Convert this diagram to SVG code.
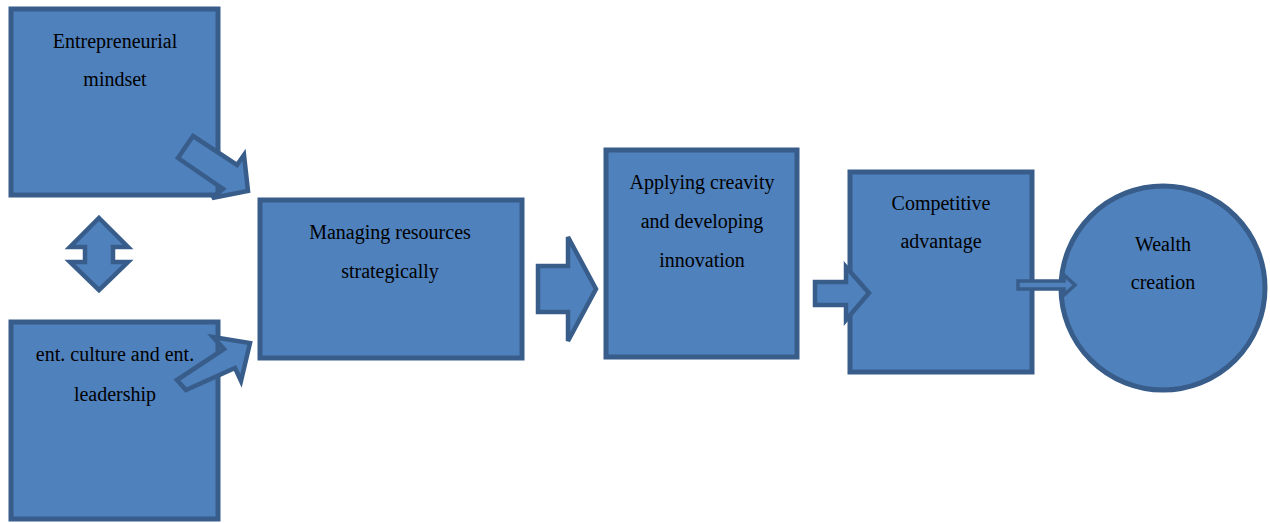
<svg xmlns="http://www.w3.org/2000/svg" width="1270" height="523" viewBox="0 0 1270 523">
<style>
.n{fill:#4F81BD;stroke:#385D8A;stroke-width:5}
.a{fill:#4F81BD;stroke:#385D8A;stroke-width:4.5;stroke-linejoin:miter}
.t{font-family:"Liberation Serif","Times New Roman",serif;font-size:20px;fill:#000;text-anchor:middle}
</style>
<rect width="1270" height="523" fill="#fff"/>
<g id="entrepreneurial-mindset">
<rect class="n" x="11" y="9" width="207" height="186"/>
<text class="t" x="115" y="48">Entrepreneurial</text>
<text class="t" x="115" y="86">mindset</text>
</g>
<g id="ent-culture">
<rect class="n" x="11" y="322" width="207" height="197"/>
<text class="t" x="115" y="361">ent. culture and ent.</text>
<text class="t" x="115" y="401">leadership</text>
</g>
<g id="managing-resources">
<rect class="n" x="260" y="200" width="262" height="158"/>
<text class="t" x="390" y="239">Managing resources</text>
<text class="t" x="390" y="278">strategically</text>
</g>
<g id="applying-creativity">
<rect class="n" x="606" y="150" width="191" height="207"/>
<text class="t" x="702" y="189">Applying creavity</text>
<text class="t" x="702" y="228">and developing</text>
<text class="t" x="702" y="267">innovation</text>
</g>
<g id="competitive-advantage">
<rect class="n" x="850" y="172" width="182" height="200"/>
<text class="t" x="941" y="210">Competitive</text>
<text class="t" x="941" y="248">advantage</text>
</g>
<g id="wealth-creation">
<circle class="n" cx="1163" cy="288" r="102"/>
<text class="t" x="1163" y="251">Wealth</text>
<text class="t" x="1163" y="289">creation</text>
</g>
<g id="connectors">
<polygon class="a" points="193,136 237,165 244,155 248,191 212,198 223,189 178,158"/>
<polygon class="a" points="177,380 224,349 213,337 250,343 241,381 235,368 186,390"/>
<polygon class="a" points="99,218 128,247 113,247 113,262 128,262 99,290 70,262 85,262 85,247 70,247"/>
<polygon class="a" points="538,266 568,266 568,237 596,289 568,341 568,312 538,312"/>
<polygon class="a" points="815,282 846,282 846,267 869,293 846,320 846,305 815,305"/>
<polygon class="a" style="stroke-width:3.5" points="1018,281 1064,281 1064,275 1075,285 1064,295 1064,289 1018,289"/>
</g>
</svg>
